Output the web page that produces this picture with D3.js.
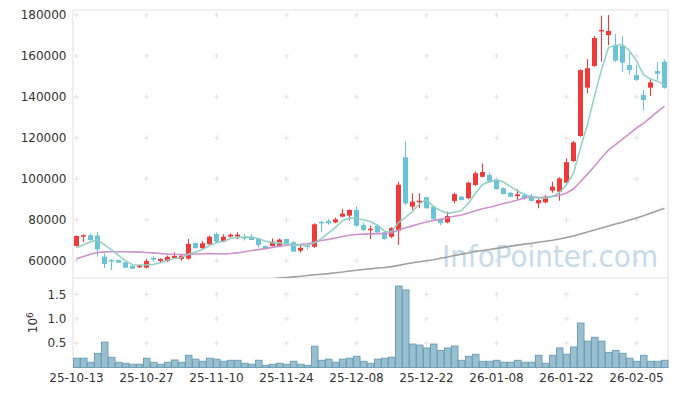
<!DOCTYPE html>
<html>
<head>
<meta charset="utf-8">
<script src="https://cdn.jsdelivr.net/npm/d3@7"></script>
<style>
    body { margin: 0; background: #fff; }
    text { font-family: 'DejaVu Sans', sans-serif; }
</style>
</head>
<body>
<div id="chart"></div>
<script>
const dates = [
    '25-10-13', '25-10-14', '25-10-15', '25-10-16', '25-10-17', '25-10-20', '25-10-21', '25-10-22', '25-10-23', '25-10-24',
    '25-10-27', '25-10-28', '25-10-29', '25-10-30', '25-10-31', '25-11-03', '25-11-04', '25-11-05', '25-11-06', '25-11-07',
    '25-11-10', '25-11-11', '25-11-12', '25-11-13', '25-11-14', '25-11-17', '25-11-18', '25-11-19', '25-11-20', '25-11-21',
    '25-11-24', '25-11-25', '25-11-26', '25-11-27', '25-11-28', '25-12-01', '25-12-02', '25-12-03', '25-12-04', '25-12-05',
    '25-12-08', '25-12-09', '25-12-10', '25-12-11', '25-12-12', '25-12-15', '25-12-16', '25-12-17', '25-12-18', '25-12-19',
    '25-12-22', '25-12-23', '25-12-24', '25-12-26', '25-12-29', '25-12-30', '26-01-02', '26-01-05', '26-01-06', '26-01-07',
    '26-01-08', '26-01-09', '26-01-12', '26-01-13', '26-01-14', '26-01-15', '26-01-16', '26-01-19', '26-01-20', '26-01-21',
    '26-01-22', '26-01-23', '26-01-26', '26-01-27', '26-01-28', '26-01-29', '26-01-30', '26-02-02', '26-02-03', '26-02-04',
    '26-02-05', '26-02-06', '26-02-09', '26-02-10', '26-02-11'
];

const open = [
    67200, 71800, 72500, 72300, 62000, 60300, 60300, 59200, 57500, 56800,
    56600, 61400, 59900, 59800, 61300, 60800, 61000, 68600, 66100, 68000,
    73000, 69300, 71800, 71800, 71600, 71700, 70600, 67200, 67200, 67000,
    70600, 69000, 64900, 67400, 66800, 79000, 79400, 78700, 81500, 82000,
    84800, 77400, 74900, 77100, 73900, 71700, 74700, 110500, 86400, 88500,
    91000, 86400, 80400, 78700, 89200, 91300, 90500, 97000, 101000, 101900,
    99400, 95400, 93200, 91600, 92000, 91600, 88000, 88500, 94200, 93700,
    98100, 108700, 120900, 144500, 155100, 172000, 170200, 165300, 164900, 155600,
    150700, 140900, 144500, 152600, 157200
];
const high = [
    72300, 72800, 73400, 74000, 63600, 60800, 60600, 59400, 57700, 58000,
    60800, 62300, 61300, 62500, 64100, 63000, 70600, 69000, 69600, 72300,
    73900, 72900, 73300, 73900, 73000, 73000, 70800, 67400, 70900, 70800,
    70900, 69600, 67700, 68500, 78300, 79400, 80400, 81000, 85200, 85000,
    86700, 78500, 77100, 77800, 74200, 76300, 98600, 118300, 92900, 92900,
    91300, 87000, 80600, 84000, 93200, 91600, 98600, 103500, 107500, 103000,
    99800, 95800, 93500, 94900, 92900, 92600, 90100, 92000, 98600, 100800,
    110000, 118500, 153500, 158400, 169700, 179700, 180000, 170700, 169700, 161600,
    155600, 143400, 148600, 157200, 158400
];
const low = [
    66900, 69000, 69900, 62000, 56400, 55400, 58800, 56400, 56000, 56500,
    56200, 59600, 59200, 59300, 61000, 60000, 60500, 65800, 65700, 67700,
    69000, 69000, 71200, 70600, 69900, 70000, 66300, 65700, 66900, 66800,
    67800, 64300, 64000, 65300, 66300, 73900, 77600, 78300, 81300, 79700,
    76600, 74500, 70600, 73500, 70300, 71000, 67700, 87200, 84800, 85600,
    85400, 80000, 77400, 78300, 88000, 89400, 90000, 96500, 100700, 98000,
    94600, 92300, 91000, 89600, 89600, 88900, 85600, 88000, 93200, 89300,
    97800, 108200, 120500, 141800, 154700, 157200, 165300, 157000, 152300, 151000,
    147800, 133600, 140400, 148300, 144000
];
const close = [
    72100, 72500, 70100, 65500, 58400, 59800, 59000, 56600, 56100, 57700,
    59800, 60500, 60800, 61900, 62300, 62400, 68200, 66200, 68500, 71700,
    69300, 71700, 72700, 72700, 70800, 70100, 67700, 66000, 69300, 70300,
    68200, 64400, 66300, 66900, 77800, 78500, 78300, 80200, 83000, 84800,
    77100, 75000, 75600, 73900, 70600, 75900, 97100, 88000, 88800, 89300,
    85600, 80400, 78300, 81800, 92500, 89600, 98100, 102700, 103300, 98600,
    95000, 92600, 91300, 92400, 90500, 89200, 89600, 91300, 96200, 100200,
    108100, 117800, 153100, 154000, 168800, 172700, 172200, 157700, 156700, 153100,
    148300, 138500, 147100, 151300, 144500
];
const volume = [
    190000, 190000, 107000, 290000, 520000, 210000, 107000, 86000, 66000, 66000,
    190000, 107000, 66000, 107000, 154000, 107000, 250000, 170000, 127000, 190000,
    170000, 127000, 147000, 147000, 86000, 66000, 147000, 45000, 66000, 86000,
    66000, 127000, 66000, 45000, 436000, 147000, 170000, 107000, 170000, 190000,
    230000, 127000, 86000, 170000, 190000, 210000, 1670000, 1590000, 480000, 460000,
    400000, 480000, 350000, 400000, 440000, 147000, 230000, 270000, 127000, 127000,
    147000, 107000, 107000, 147000, 107000, 107000, 250000, 86000, 250000, 400000,
    270000, 420000, 910000, 540000, 620000, 540000, 310000, 350000, 290000, 190000,
    127000, 250000, 127000, 127000, 147000
];
const ma5 = [
    66300, 67800, 69200, 70200, 67700, 65300, 62600, 59900, 58000, 57900,
    57900, 58200, 59000, 60200, 61100, 61600, 63100, 64200, 65500, 67400,
    68800, 69500, 70800, 71600, 71400, 71600, 70800, 69500, 68800, 68700,
    68300, 67600, 67700, 67200, 68700, 70800, 73600, 76300, 79500, 80900,
    80700, 80000, 79100, 77300, 74400, 74200, 78600, 81100, 84100, 87800,
    89800, 86400, 84500, 83100, 83700, 84500, 88100, 92900, 97200, 98500,
    99500, 98400, 96200, 94000, 92400, 91200, 90600, 90600, 91400, 93300,
    97100, 102700, 115100, 126600, 140400, 153300, 164200, 165100, 165600, 162500,
    157600, 150900, 148700, 147700, 145900
];
const ma20 = [
    60900, 62000, 63200, 64000, 64300, 64400, 64400, 64400, 64300, 64200,
    64000, 63800, 63500, 63200, 63000, 63000, 63100, 63300, 63400, 63500,
    63400, 63300, 63500, 63800, 64400, 65000, 65400, 65900, 66500, 67100,
    67600, 67800, 68000, 68300, 69100, 69900, 70400, 71100, 71800, 72400,
    72800, 73000, 73100, 73200, 73200, 73500, 75000, 76100, 77000, 78000,
    78900, 79700, 80200, 81000, 81700, 82300, 83300, 84400, 85400, 86100,
    87000, 87900, 88700, 89600, 90600, 91300, 90900, 91000, 91400, 92000,
    93100, 95000, 98700, 102300, 106100, 110300, 114000, 116700, 119400, 122100,
    124800, 127100, 129900, 132800, 135500
];
const ma60 = [
    null, null, null, null, null, null, null, null, null, null,
    null, null, null, null, null, null, null, null, null, null,
    null, null, null, null, null, null, 50600, 50900, 51200, 51500,
    51800, 52100, 52400, 52800, 53100, 53400, 53700, 54100, 54500, 55000,
    55300, 55700, 56000, 56400, 56700, 57100, 57700, 58400, 59000, 59500,
    60000, 60500, 61200, 61800, 62500, 63200, 63800, 64500, 65000, 65500,
    66000, 66500, 67100, 67600, 68100, 68500, 69000, 69500, 70000, 70600,
    71300, 72100, 73000, 74000, 75000, 76000, 76900, 77900, 78800, 79900,
    80900, 82000, 83200, 84400, 85600
];
const priceTicks = [60000, 80000, 100000, 120000, 140000, 160000, 180000];
const volumeTicks = [0.5, 1.0, 1.5];

const width = 677;
const height = 396;
const left = 73, right = 668;
const mainTop = 10, mainBottom = 278;
const volBottom = 367.5;

const idx = d3.range(dates.length);

const x = d3.scaleBand()
    .domain(idx)
    .range([left, right])
    .padding(0);
const xc = i => x(i) + x.bandwidth() / 2;

const y = d3.scaleLinear()
    .domain([51550, 182440])
    .range([mainBottom, mainTop]);

const yv = d3.scaleLinear()
    .domain([0, 1.835])
    .range([volBottom, mainBottom]);

const svg = d3.select('#chart')
    .append('svg')
    .attr('width', width)
    .attr('height', height);

svg.append('clipPath').attr('id', 'mainClip')
    .append('rect')
    .attr('x', left).attr('y', mainTop)
    .attr('width', right - left).attr('height', mainBottom - mainTop);

// grid crosses
const tickIdx = idx.filter(i => i % 10 === 0);
const crossRows = priceTicks.map(y).concat(volumeTicks.map(yv));
const crosses = [];
tickIdx.forEach(i => crossRows.forEach(r => crosses.push([xc(i), r])));
svg.append('g')
    .attr('stroke', '#e2e2e2')
    .attr('stroke-width', 1)
    .selectAll('path')
    .data(crosses)
    .join('path')
    .attr('d', d => `M${d[0] - 2.5},${d[1]}H${d[0] + 2.5}M${d[0]},${d[1] - 2.5}V${d[1] + 2.5}`);

// frame
svg.append('path')
    .attr('d', `M${left},${volBottom}V${mainTop}H${right}V${volBottom}M${left},${mainBottom}H${right}`)
    .attr('fill', 'none')
    .attr('stroke', '#e4e4e4')
    .attr('stroke-width', 1.2);

// watermark
svg.append('text')
    .attr('x', 442)
    .attr('y', 267)
    .attr('textLength', 216)
    .attr('lengthAdjust', 'spacingAndGlyphs')
    .attr('font-size', '31px')
    .attr('font-family', "'Liberation Sans', sans-serif")
    .attr('fill', '#c6dce7')
    .text('InfoPointer.com');

const plot = svg.append('g').attr('clip-path', 'url(#mainClip)');

// candles
const up = i => close[i] >= open[i];
const colorOf = i => up(i) ? '#ef3a3a' : '#6bc3d8';

plot.append('g')
    .selectAll('line')
    .data(idx)
    .join('line')
    .attr('x1', xc).attr('x2', xc)
    .attr('y1', i => y(high[i]))
    .attr('y2', i => y(low[i]))
    .attr('stroke', colorOf)
    .attr('stroke-width', 1.1);

plot.append('g')
    .selectAll('rect')
    .data(idx)
    .join('rect')
    .attr('x', i => xc(i) - 2.5)
    .attr('width', 5)
    .attr('y', i => y(Math.max(open[i], close[i])))
    .attr('height', i => Math.max(1.5, Math.abs(y(open[i]) - y(close[i]))))
    .attr('fill', colorOf);

// moving averages
const line = arr => d3.line()
    .defined(i => arr[i] !== null)
    .x(xc)
    .y(i => y(arr[i]))(idx);

[[ma60, '#9a9a9a'], [ma20, '#cc8cc8'], [ma5, '#8ecfc3']].forEach(([arr, c]) => {
    plot.append('path')
        .attr('d', line(arr))
        .attr('fill', 'none')
        .attr('stroke', c)
        .attr('stroke-width', 1.6)
        .attr('opacity', 0.95);
});

// volume bars
svg.append('g')
    .selectAll('rect')
    .data(idx)
    .join('rect')
    .attr('x', i => x(i) + 0.5)
    .attr('width', x.bandwidth() - 0.5)
    .attr('y', i => yv(volume[i] / 1e6))
    .attr('height', i => volBottom - yv(volume[i] / 1e6))
    .attr('fill', '#97bfcf')
    .attr('stroke', '#6f9fb7')
    .attr('stroke-width', 1);

// axes labels
svg.append('g')
    .selectAll('text')
    .data(priceTicks)
    .join('text')
    .attr('x', 66.5)
    .attr('y', d => y(d))
    .attr('dy', '0.36em')
    .attr('text-anchor', 'end')
    .attr('font-size', '12px')
    .attr('fill', '#333')
    .text(d => d);

svg.append('g')
    .selectAll('text')
    .data(volumeTicks)
    .join('text')
    .attr('x', 66.5)
    .attr('y', d => yv(d))
    .attr('dy', '0.36em')
    .attr('text-anchor', 'end')
    .attr('font-size', '12px')
    .attr('fill', '#333')
    .text(d => d.toFixed(1));

const unit = svg.append('text')
    .attr('transform', `translate(37,${(mainBottom + volBottom) / 2}) rotate(-90)`)
    .attr('text-anchor', 'middle')
    .attr('font-size', '12px')
    .attr('fill', '#333');
unit.append('tspan').text('10');
unit.append('tspan').attr('dy', '-0.5em').attr('font-size', '9px').text('6');

svg.append('g')
    .selectAll('text')
    .data(tickIdx)
    .join('text')
    .attr('x', xc)
    .attr('y', 381.5)
    .attr('text-anchor', 'middle')
    .attr('font-size', '12px')
    .attr('fill', '#333')
    .text(i => dates[i]);
</script>
</body>
</html>
